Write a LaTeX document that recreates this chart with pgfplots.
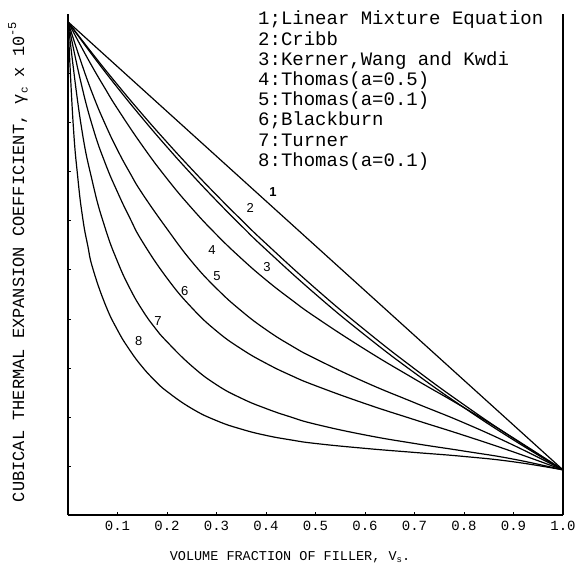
\documentclass[border=0pt]{standalone}
\usepackage{fontspec}
\setmainfont{Liberation Mono}
\newfontfamily\lsans{Liberation Sans}
\usepackage{pgfplots}
\pgfplotsset{compat=1.18}
\begin{document}
\begin{tikzpicture}[x=1pt,y=1pt]
\begin{axis}[
  at={(68pt,54pt)}, anchor=south west,
  scale only axis, width=495pt, height=501pt,
  xmin=0, xmax=1, ymin=0, ymax=10.22,
  axis x line=bottom, axis y line=box,
  axis line style={-, line width=1.6pt, black},
  xtick={0.1,0.2,0.3,0.4,0.5,0.6,0.7,0.8,0.9,1.0},
  xticklabels={0.1,0.2,0.3,0.4,0.5,0.6,0.7,0.8,0.9,1.0},
  ytick={1,2,3,4,5,6,7,8,9,10}, yticklabels={}, ytick pos=left,
  tick align=inside, major tick length=3pt,
  tick style={line width=0.8pt, black},
  x tick label style={font=\fontsize{14}{14}\selectfont, yshift=-3pt},
  /pgf/number format/assume math mode=true,
  clip=false,
  cycle list={{black, solid, mark=none}},
  every axis plot/.append style={line width=1.2pt, black, mark=none, solid, smooth, tension=0.8},
]
\addplot coordinates {(0,10.06) (1,0.92)};
\addplot coordinates {(0,10.06)(0.05,9.404)(0.1,8.777)(0.15,8.177)(0.2,7.604)(0.25,7.054)(0.3,6.527)(0.35,6.022)(0.4,5.537)(0.5,4.621)(0.6,3.772)(0.7,2.983)(0.8,2.248)(0.9,1.563)(1,0.92)};
\addplot coordinates {(0,10.06)(0.05,9.371)(0.1,8.717)(0.15,8.097)(0.2,7.507)(0.25,6.946)(0.3,6.412)(0.35,5.902)(0.4,5.415)(0.5,4.505)(0.6,3.669)(0.7,2.900)(0.8,2.190)(0.9,1.531)(1,0.92)};
\addplot coordinates {(0,10.06)(0.025,9.585)(0.05,9.128)(0.075,8.698)(0.1,8.287)(0.15,7.537)(0.2,6.861)(0.25,6.258)(0.3,5.719)(0.35,5.234)(0.4,4.795)(0.45,4.402)(0.5,4.037)(0.6,3.379)(0.7,2.775)(0.8,2.190)(0.9,1.569)(1,0.92)};
\addplot coordinates {(0,10.06)(0.025,9.283)(0.05,8.579)(0.075,7.976)(0.1,7.446)(0.125,6.980)(0.15,6.559)(0.2,5.837)(0.25,5.170)(0.3,4.622)(0.35,4.165)(0.4,3.781)(0.45,3.461)(0.5,3.187)(0.6,2.711)(0.7,2.291)(0.8,1.880)(0.9,1.423)(1,0.92)};
\addplot coordinates {(0,10.06)(0.025,8.872)(0.05,7.912)(0.075,7.181)(0.1,6.587)(0.125,6.057)(0.15,5.581)(0.2,4.832)(0.25,4.229)(0.3,3.753)(0.35,3.388)(0.4,3.095)(0.45,2.849)(0.5,2.638)(0.6,2.273)(0.7,1.944)(0.8,1.624)(0.9,1.286)(1,0.92)};
\addplot coordinates {(0,10.06)(0.025,8.049)(0.05,6.770)(0.075,5.856)(0.1,5.170)(0.125,4.622)(0.15,4.183)(0.175,3.827)(0.2,3.534)(0.25,3.040)(0.3,2.657)(0.35,2.382)(0.4,2.172)(0.45,1.999)(0.5,1.852)(0.6,1.633)(0.7,1.459)(0.8,1.304)(0.9,1.139)(1,0.92)};
\addplot coordinates {(0,10.06)(0.01,8.049)(0.02,6.861)(0.03,6.038)(0.04,5.490)(0.05,5.033)(0.075,4.302)(0.1,3.772)(0.125,3.360)(0.15,3.022)(0.175,2.748)(0.2,2.520)(0.25,2.172)(0.3,1.925)(0.35,1.752)(0.4,1.624)(0.45,1.532)(0.5,1.459)(0.6,1.359)(0.7,1.276)(0.8,1.194)(0.9,1.085)(1,0.92)};
\begin{scope}[every node/.style={font=\lsans\fontsize{13}{13}\selectfont, inner sep=0pt}]
\node at (axis cs:0.414,6.59) {\textbf{1}};
\node at (axis cs:0.368,6.27) {2};
\node at (axis cs:0.402,5.06) {3};
\node at (axis cs:0.291,5.41) {4};
\node at (axis cs:0.301,4.88) {5};
\node at (axis cs:0.236,4.57) {6};
\node at (axis cs:0.182,3.95) {7};
\node at (axis cs:0.143,3.55) {8};
\end{scope}
\end{axis}
\node[anchor=north west, align=left, inner sep=0pt, font=\fontsize{19}{20.2}\selectfont] at (258,558) {1;Linear Mixture Equation\\2:Cribb\\3:Kerner,Wang and Kwdi\\4:Thomas(a=0.5)\\5:Thomas(a=0.1)\\6;Blackburn\\7:Turner\\8:Thomas(a=0.1)};
\node[rotate=90, inner sep=0pt, font=\fontsize{17}{17}\selectfont] at (18,307) {CUBICAL THERMAL EXPANSION COEFFICIENT, γ\raisebox{-0.4ex}{\fontsize{11}{11}\selectfont c} x 10\raisebox{0.9ex}{\fontsize{12}{12}\selectfont -5}};
\node[inner sep=0pt, font=\fontsize{13.5}{13.5}\selectfont] at (290,12) {VOLUME FRACTION OF FILLER, V\raisebox{-0.4ex}{\fontsize{9}{9}\selectfont s}.};
\pgfresetboundingbox
\useasboundingbox (0,0) rectangle (576,569);
\end{tikzpicture}
\end{document}
